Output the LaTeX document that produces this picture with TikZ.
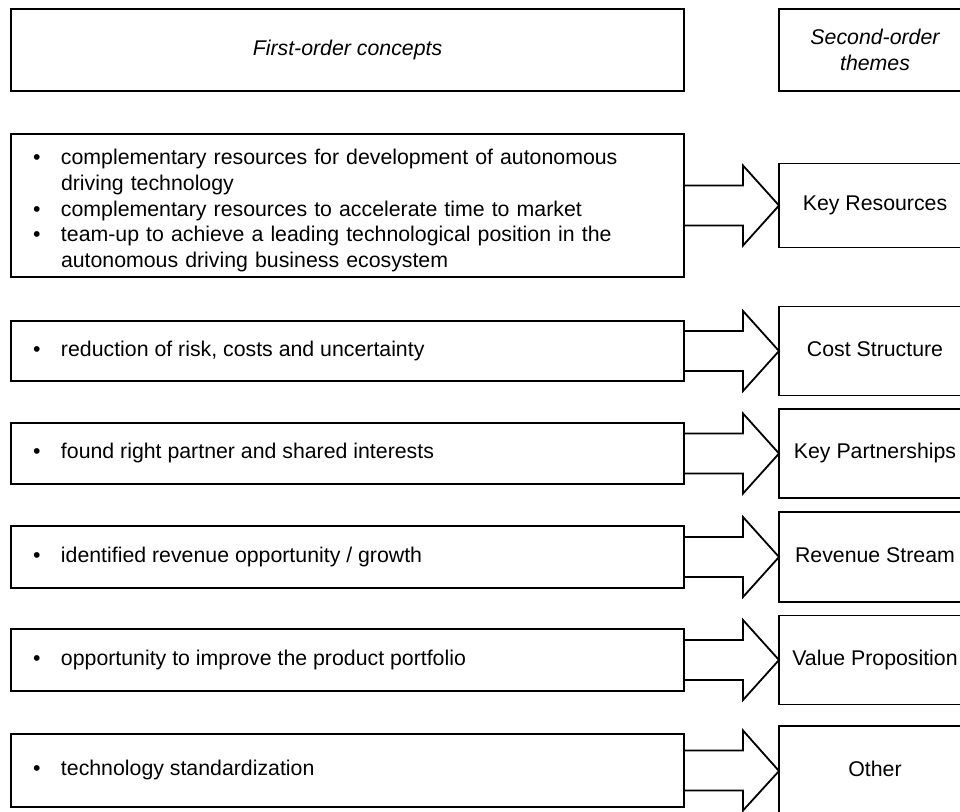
\documentclass[tikz,border=0pt]{standalone}
\usepackage{fontspec}
\setmainfont{Liberation Sans}
\newcommand\bulletitem{\par\noindent\hangindent=28pt\hangafter=1\makebox[28pt][l]{\textbullet}}
\newcommand\oneitem[1]{\makebox[629pt][l]{\makebox[28pt][l]{\textbullet}#1}}
\tikzset{
  box/.style={draw=black, line width=1.8pt, inner sep=0pt, outer sep=0pt,
    font=\fontsize{21.3}{25.7}\selectfont},
  oneline/.style={text height=15.5pt, text depth=5pt},
  lbox/.style={box, minimum width=673pt, inner xsep=22pt},
  listbox/.style={lbox, text width=629pt, align=left},
  itembox/.style={lbox, oneline},
  headbox/.style={box, align=center},
  rbox/.style={box, minimum width=192pt, align=center, oneline},
  fat/.style={draw=black, line width=1.8pt, line join=miter},
}
% hollow block arrow from the east side of one box to the west side of another
\newcommand\blockarrow[2]{%
  \draw[fat] ([yshift=20pt]#1.east) -- ([shift={(59pt,20pt)}]#1.east)
    -- ([shift={(59pt,40pt)}]#1.east) -- (#2.west)
    -- ([shift={(59pt,-40pt)}]#1.east) -- ([shift={(59pt,-20pt)}]#1.east)
    -- ([yshift=-20pt]#1.east);}
\begin{document}
\begin{tikzpicture}[x=1pt, y=-1pt]
  \useasboundingbox (0,0) rectangle (960,811);
  \fill[white] (0,0) rectangle (960,811);
  \clip (0,0) rectangle (960,811);

  % column headings
  \node[headbox, minimum width=673pt, minimum height=82pt] (H1) at (347.5,50)
    {\itshape First-order concepts};
  \node[headbox, minimum width=192pt, minimum height=82pt] (H2) at (875,50)
    {\itshape Second-order\\\itshape themes};

  % first-order concepts
  \node[listbox, minimum height=143pt] (L1) at (347.5,205.5) {%
    \bulletitem complementary resources for development of autonomous\newline driving technology
    \bulletitem complementary resources to accelerate time to market
    \bulletitem team-up to achieve a leading technological position in the\newline autonomous driving business ecosystem\par\vspace{4pt}};
  \node[itembox, minimum height=60pt] (L2) at (347.5,351) {\oneitem{reduction of risk, costs and uncertainty}};
  \node[itembox, minimum height=61pt] (L3) at (347.5,453.5) {\oneitem{found right partner and shared interests}};
  \node[itembox, minimum height=62pt] (L4) at (347.5,557) {\oneitem{identified revenue opportunity / growth}};
  \node[itembox, minimum height=62pt] (L5) at (347.5,660) {\oneitem{opportunity to improve the product portfolio}};
  \node[itembox, minimum height=73pt] (L6) at (347.5,770.5) {\oneitem{technology standardization}};

  % second-order themes
  \node[rbox, minimum height=84pt] (R1) at (875,205.5) {Key Resources};
  \node[rbox, minimum height=89pt] (R2) at (875,351) {Cost Structure};
  \node[rbox, minimum height=89pt] (R3) at (875,453.5) {Key Partnerships};
  \node[rbox, minimum height=90pt] (R4) at (875,557) {Revenue Stream};
  \node[rbox, minimum height=89pt] (R5) at (875,660) {Value Proposition};
  \node[rbox, minimum height=90pt] (R6) at (875,771) {Other};

  % arrows
  \blockarrow{L1}{R1}
  \blockarrow{L2}{R2}
  \blockarrow{L3}{R3}
  \blockarrow{L4}{R4}
  \blockarrow{L5}{R5}
  \blockarrow{L6}{R6}
\end{tikzpicture}
\end{document}
